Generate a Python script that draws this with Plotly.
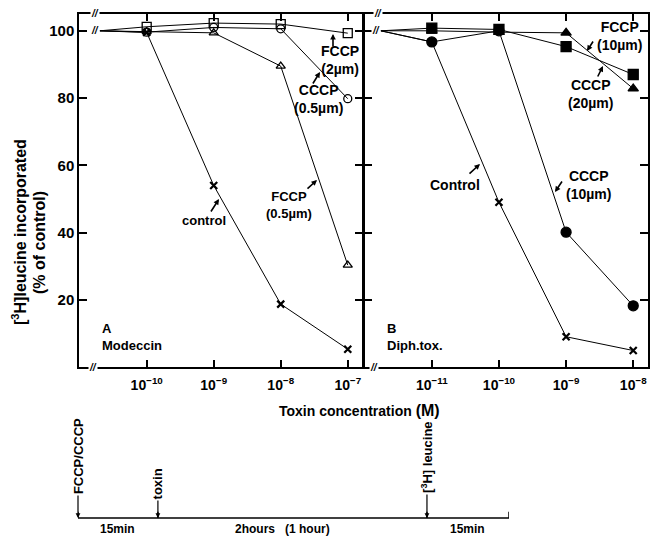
import plotly.graph_objects as go

W, H = 651, 537

# ---------------- data ----------------
# Panel A : Modeccin
conc_A = [1e-10, 1e-9, 1e-8, 1e-7]
control_A = [99.5, 54.0, 18.7, 5.3]
fccp05_A = [99.8, 99.4, 89.5, 30.3]
cccp05_A = [99.6, 101.0, 100.6, 79.8]
fccp2_A = [101.2, 102.3, 102.0, 99.3]

# Panel B : Diphtheria toxin
conc_B = [1e-11, 1e-10, 1e-9, 1e-8]
control_B = [96.7, 49.0, 9.0, 4.9]
cccp10_B = [96.7, 100.0, 40.1, 18.2]
fccp10_B = [100.0, 99.6, 99.4, 82.8]
cccp20_B = [100.8, 100.4, 95.3, 87.0]

# "no toxin" reference (drawn just after the axis break)
no_toxin_A = 2.0e-11
no_toxin_B = 1.74e-12
no_toxin_value = 100

y_ticks = [20, 40, 60, 80, 100]
xtick_text_A = ["10<sup>−10</sup>", "10<sup>−9</sup>", "10<sup>−8</sup>", "10<sup>−7</sup>"]
xtick_text_B = ["10<sup>−11</sup>", "10<sup>−10</sup>", "10<sup>−9</sup>", "10<sup>−8</sup>"]

# time course schematic
timeline_events = ["FCCP/CCCP", "toxin", "[<sup>3</sup>H] leucine"]
timeline_segments = ["15min", "2hours   (1 hour)", "15min"]
timeline_lengths = [15, 50.5, 15.4]   # schematic lengths (not to scale)

FONT = "Liberation Sans"

def P(px, py):
    return px / W, 1 - py / H

fig = go.Figure()

def add_series(xs, ys, base_x, symbol, size, xa, ya, lw=1.0, mlw=1.3):
    fig.add_trace(go.Scatter(
        x=[base_x] + xs, y=[no_toxin_value] + ys, mode="lines",
        line=dict(color="black", width=lw), xaxis=xa, yaxis=ya,
        showlegend=False, hoverinfo="skip"))
    fig.add_trace(go.Scatter(
        x=xs, y=ys, mode="markers",
        marker=dict(symbol=symbol, size=size, color="black",
                    line=dict(color="black", width=mlw)),
        xaxis=xa, yaxis=ya, showlegend=False))

# Panel A
add_series(conc_A, fccp2_A, no_toxin_A, "square-open", 9, "x", "y")
add_series(conc_A, cccp05_A, no_toxin_A, "circle-open", 8, "x", "y")
add_series(conc_A, fccp05_A, no_toxin_A, "triangle-up-open", 8, "x", "y")
add_series(conc_A, control_A, no_toxin_A, "x-thin", 7, "x", "y", mlw=2.2)

# Panel B
add_series(conc_B, control_B, no_toxin_B, "x-thin", 7, "x2", "y2", mlw=2.2)
add_series(conc_B, fccp10_B, no_toxin_B, "triangle-up", 9, "x2", "y2")
add_series(conc_B, cccp20_B, no_toxin_B, "square", 10, "x2", "y2")
add_series(conc_B, cccp10_B, no_toxin_B, "circle", 10, "x2", "y2")

# Timeline
cum = [0]
for L in timeline_lengths:
    cum.append(cum[-1] + L)
fig.add_trace(go.Scatter(x=[cum[0], cum[-1]], y=[0, 0], mode="lines",
                         line=dict(color="black", width=1.5), xaxis="x3", yaxis="y3",
                         showlegend=False, hoverinfo="skip"))
tx, ty = [], []
for c in cum:
    tx += [c, c, None]
    ty += [0, 0.07, None]
fig.add_trace(go.Scatter(x=tx, y=ty, mode="lines", line=dict(color="black", width=1.5),
                         xaxis="x3", yaxis="y3", showlegend=False, hoverinfo="skip"))

axis_common = dict(showline=True, linecolor="black", linewidth=1.5, showgrid=False,
                   zeroline=False, ticks="inside", tickcolor="black", tickwidth=1.5,
                   mirror="ticks")
tfont = dict(family=FONT, size=14, color="black", weight="bold")

ydom = [1 - 367 / H, 1 - 14 / H]
fig.update_layout(
    width=W, height=H, margin=dict(l=0, r=0, t=0, b=0),
    paper_bgcolor="white", plot_bgcolor="white", showlegend=False,
    font=dict(family=FONT, color="black"),
    xaxis=dict(type="log", range=[-11.01, -6.78], domain=[79 / W, 362.5 / W], anchor="y",
               tickvals=conc_A, ticktext=xtick_text_A, ticklen=7, tickfont=tfont,
               ticklabelstandoff=4, **axis_common),
    xaxis2=dict(type="log", range=[-12.01, -7.78], domain=[364 / W, 648 / W], anchor="y2",
                tickvals=conc_B, ticktext=xtick_text_B, ticklen=7, tickfont=tfont,
                ticklabelstandoff=4, **axis_common),
    yaxis=dict(range=[0, 105], domain=ydom, anchor="x", tickvals=y_ticks, ticklen=8,
               tickfont=dict(family=FONT, size=15, color="black", weight="bold"), **axis_common),
    yaxis2=dict(range=[0, 105], domain=ydom, anchor="x2", tickvals=y_ticks, ticklen=8,
                showticklabels=False, **axis_common),
    xaxis3=dict(domain=[78 / W, 509 / W], range=[0, cum[-1]], anchor="y3", visible=False),
    yaxis3=dict(domain=[0, 1 - 429.6 / H], range=[-0.215, 1], anchor="x3", visible=False),
)

ann = []
def label(text, px, py, size=14, align="center", xanchor="center"):
    x, y = P(px, py)
    ann.append(dict(text=text, x=x, y=y, xref="paper", yref="paper", showarrow=False,
                    align=align, xanchor=xanchor, yanchor="middle",
                    font=dict(family=FONT, size=size, color="black", weight="bold")))

def arrow(tail, head):
    x, y = P(*head)
    ann.append(dict(text="", x=x, y=y, xref="paper", yref="paper", showarrow=True,
                    ax=tail[0] - head[0], ay=tail[1] - head[1], arrowhead=2,
                    arrowsize=0.7, arrowwidth=1.6, arrowcolor="black", standoff=0))

def brk(px, py):
    x, y = P(px, py)
    ann.append(dict(text="<i>//</i>", x=x, y=y, xref="paper", yref="paper", showarrow=False,
                    bgcolor="white", borderpad=0, xanchor="center", yanchor="middle",
                    font=dict(family=FONT, size=10, color="black", weight="bold")))

# panel A labels
label("control", 204, 220, size=13)
arrow((210, 213), (219, 199))
label("FCCP<br>(0.5µm)", 289, 205, size=13)
arrow((306, 190), (317, 180))
label("CCCP<br>(0.5µm)", 318, 99)
arrow((312, 85), (320, 72))
label("FCCP<br>(2µm)", 340, 60)
arrow((333, 48), (333, 34))
label("A<br>Modeccin", 100, 337, size=13, align="left", xanchor="left")

# panel B labels
label("Control", 455, 185)
arrow((468, 175), (480, 164))
label("CCCP<br>(10µm)", 588, 185)
arrow((563, 180), (555, 192))
label("FCCP<br>(10µm)", 619, 36)
arrow((594, 40), (587, 51))
label("CCCP<br>(20µm)", 590, 94)
arrow((597, 78), (603, 66))
label("B<br>Diph.tox.", 385, 337, size=13, align="left", xanchor="left")

# axis breaks
for (px, py) in [(95, 14), (95, 31), (93, 367), (378, 14), (376, 31), (374, 367)]:
    brk(px, py)

# axis titles
label("Toxin concentration <span style='font-size:16px'>(M)</span>", 359, 410, size=14)
for txt, px, py in [("[<sup>3</sup>H]leucine incorporated", 19, 232), ("(% of control)", 39, 243)]:
    x, y = P(px, py)
    ann.append(dict(text=txt, x=x, y=y, xref="paper", yref="paper", showarrow=False,
                    textangle=-90, xanchor="center", yanchor="middle",
                    font=dict(family=FONT, size=16, color="black", weight="bold")))

# timeline labels
event_text_centre = [0.70, 0.39, 0.69]
for i, ev in enumerate(timeline_events):
    ann.append(dict(text=ev, x=cum[i], y=0, xref="x3", yref="y3", axref="x3", ayref="y3",
                    ax=cum[i], ay=event_text_centre[i], textangle=-90, showarrow=True,
                    arrowhead=2, arrowsize=0.8, arrowwidth=1.2, arrowcolor="black",
                    standoff=0, font=dict(family=FONT, size=13, color="black", weight="bold")))
seg_shift = [0, -10, 0]
for i, s in enumerate(timeline_segments):
    ann.append(dict(text=s, x=(cum[i] + cum[i + 1]) / 2, y=-0.12, xref="x3", yref="y3",
                    showarrow=False, xshift=seg_shift[i], yanchor="middle",
                    font=dict(family=FONT, size=12, color="black", weight="bold")))

fig.update_layout(annotations=ann)
fig.write_html("out.html")
